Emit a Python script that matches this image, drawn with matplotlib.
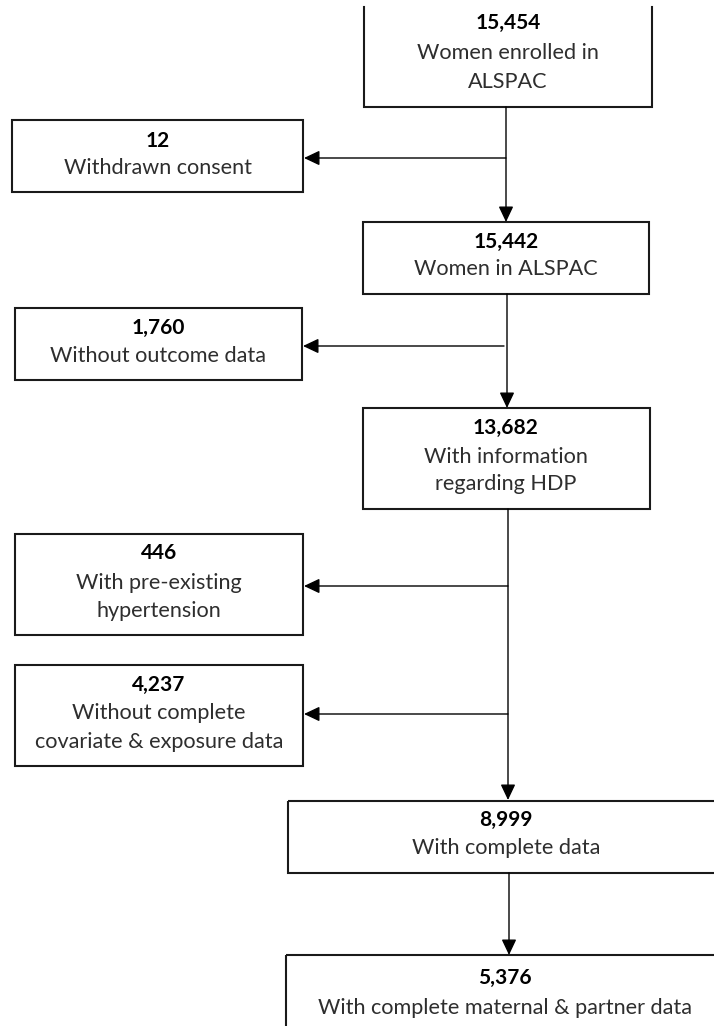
import matplotlib
matplotlib.use("Agg")
import matplotlib.pyplot as plt
from matplotlib.patches import Rectangle
from matplotlib.lines import Line2D

# ---- data ----
main_counts = ["15,454", "15,442", "13,682", "8,999", "5,376"]
main_labels = [["Women enrolled in", "ALSPAC"],
               ["Women in ALSPAC"],
               ["With information", "regarding HDP"],
               ["With complete data"],
               ["With complete maternal & partner data"]]
excl_counts = ["12", "1,760", "446", "4,237"]
excl_labels = [["Withdrawn consent"],
               ["Without outcome data"],
               ["With pre-existing", "hypertension"],
               ["Without complete", "covariate & exposure data"]]

# ---- layout (pixels, y downward) ----
W, H = 714, 1026
fig = plt.figure(figsize=(W / 100, H / 100), dpi=100)
ax = fig.add_axes([0, 0, 1, 1])
ax.set_xlim(0, W)
ax.set_ylim(H, 0)
ax.axis("off")

BODY = dict(family=["Lato", "DejaVu Sans"], fontweight="normal", fontsize=15.6, color="#2e2e2e")
NUM = dict(family=["Lato", "DejaVu Sans"], fontweight="bold", fontsize=15.0, color="#000000")
EDGE = "#1a1a1a"

main_boxes = [(364, 652, 7, 107), (363, 649, 222, 294), (363, 650, 408, 509),
              (288, 730, 801, 873), (286, 730, 955, 1040)]
main_text_y = [[23, 53, 82], [242, 269], [428, 457, 484], [820, 848], [978, 1008]]
main_text_x = [508, 506, 506, 506, 505]

excl_boxes = [(12, 303, 120, 192), (15, 302, 308, 380), (15, 303, 534, 635), (15, 303, 665, 766)]
excl_text_y = [[141, 168], [328, 356], [553, 583, 611], [685, 713, 742]]
excl_arrow = [(506, 158), (504, 346), (508, 586), (508, 714)]


def draw_box(b, open_top=False):
    x0, x1, y0, y1 = b
    if open_top:
        ax.add_line(Line2D([x0, x0, x1, x1], [y0, y1, y1, y0], color=EDGE, lw=1.5,
                           solid_joinstyle="miter"))
    else:
        ax.add_patch(Rectangle((x0, y0), x1 - x0, y1 - y0, fill=False, ec=EDGE, lw=1.5,
                               joinstyle="miter"))


def draw_text(x, ys, count, lines):
    ax.text(x, ys[0], count, ha="center", va="center", **NUM)
    for y, t in zip(ys[1:], lines):
        ax.text(x, y, t, ha="center", va="center", **BODY)


def arrow(x0, y0, x1, y1):
    ax.annotate("", xy=(x1, y1), xytext=(x0, y0),
                arrowprops=dict(arrowstyle="-|>,head_length=0.95,head_width=0.45",
                                mutation_scale=10, color="black", lw=1.0,
                                shrinkA=0, shrinkB=0))


for i, b in enumerate(main_boxes):
    draw_box(b, open_top=(i == 0))
    draw_text(main_text_x[i], main_text_y[i], main_counts[i], main_labels[i])

for i, b in enumerate(excl_boxes):
    draw_box(b)
    draw_text((b[0] + b[1]) / 2, excl_text_y[i], excl_counts[i], excl_labels[i])

# vertical connectors
arrow(506, 107, 506, 222)
arrow(507, 294, 507, 408)
arrow(508, 509, 508, 800)
arrow(509, 873, 509, 955)

# horizontal exclusion arrows
for (ax0, ay), b in zip(excl_arrow, excl_boxes):
    arrow(ax0, ay, b[1] + 1, ay)

fig.savefig("out.png", dpi=100, facecolor="white")
